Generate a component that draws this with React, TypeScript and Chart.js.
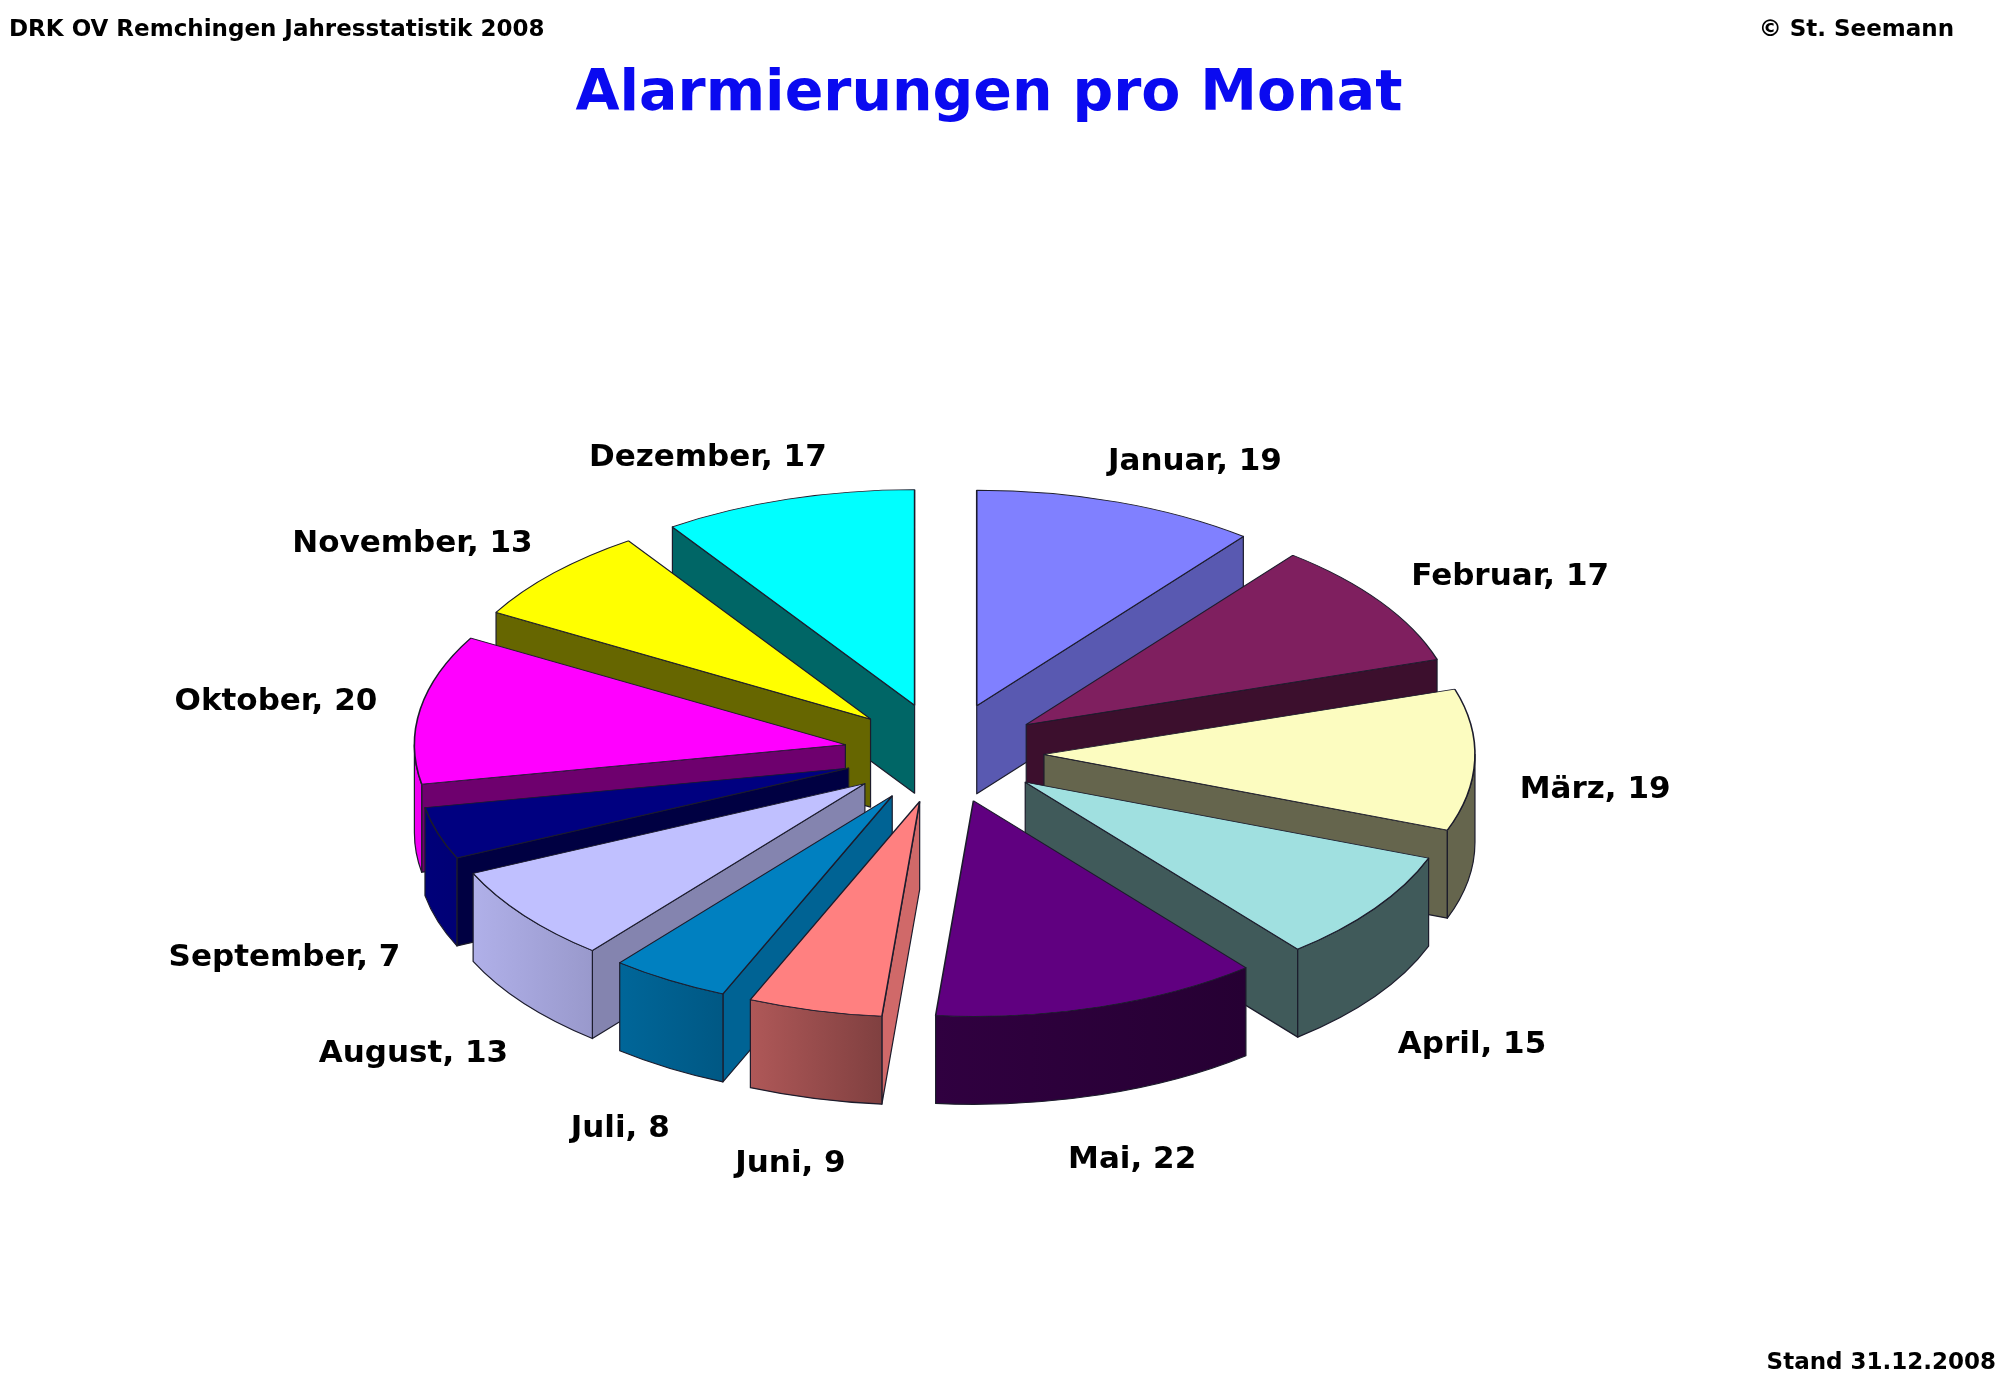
import { useEffect, useRef } from "react"
import { Chart, registerables } from "chart.js"
import type { Plugin } from "chart.js"

Chart.register(...registerables)

// Alarmierungen pro Monat 2008
const months = ["Januar", "Februar", "März", "April", "Mai", "Juni", "Juli", "August", "September", "Oktober", "November", "Dezember"]
const counts = [19, 17, 19, 15, 22, 9, 8, 13, 7, 20, 13, 17]
const sliceColors = ["#8080FF", "#7F1F5F", "#FCFCC0", "#A0E0E0", "#600080", "#FF8080", "#0080C0", "#C0C0FF", "#000080", "#FF00FF", "#FFFF00", "#00FFFF"]

const FONT = '"DejaVu Sans", "Liberation Sans", sans-serif'
const EDGE = "#1c1c2c"
const TILT = 0.5 // vertical squash of the pie
const DEPTH = 88 // height of the slice walls
const EXPLODE = 100 // how far each slice is pulled out

function shade(hex: string, f: number) {
  const n = parseInt(hex.slice(1), 16)
  const r = Math.min(255, Math.round(((n >> 16) & 255) * f))
  const g = Math.min(255, Math.round(((n >> 8) & 255) * f))
  const b = Math.min(255, Math.round((n & 255) * f))
  return `rgb(${r},${g},${b})`
}

const clamp = (v: number, lo: number, hi: number) => Math.max(lo, Math.min(hi, v))

// light on the cut faces and on the outer rim
const faceLight = (normal: number) => 0.4 + 0.42 * Math.pow(Math.max(0, Math.cos(normal)), 1.5)
const rimLight = (a: number) => 0.4 + 0.55 * Math.pow(Math.max(0, -Math.cos(a)), 0.7)

const pie3d: Plugin<"pie"> = {
  id: "pie3d",
  beforeDatasetsDraw(chart) {
    const ctx = chart.ctx
    const meta = chart.getDatasetMeta(0)
    const midOf = (el: any) => (el.startAngle + el.endAngle) / 2
    // back slices first
    const order = meta.data.map((_, i) => i).sort((a, b) => Math.sin(midOf(meta.data[a])) - Math.sin(midOf(meta.data[b])))

    for (const i of order) {
      const arc = meta.data[i] as any
      const { x, y, startAngle: a0, endAngle: a1, outerRadius: r } = arc
      const mid = (a0 + a1) / 2
      const ox = Math.cos(mid) * EXPLODE
      const oy = Math.sin(mid) * EXPLODE
      const cx = x + ox
      const cy = y + oy * TILT
      const base = sliceColors[i]

      ctx.save()
      ctx.lineWidth = 1.2
      ctx.strokeStyle = EDGE
      ctx.lineJoin = "round"

      const face = (a: number, normal: number) => {
        const px = cx + Math.cos(a) * r
        const py = cy + Math.sin(a) * r * TILT
        ctx.beginPath()
        ctx.moveTo(cx, cy)
        ctx.lineTo(px, py)
        ctx.lineTo(px, py + DEPTH)
        ctx.lineTo(cx, cy + DEPTH)
        ctx.closePath()
        ctx.fillStyle = shade(base, faceLight(normal))
        ctx.fill()
        ctx.stroke()
      }
      if (Math.cos(a0) < 0) face(a0, a0 - Math.PI / 2)
      if (Math.cos(a1) > 0) face(a1, a1 + Math.PI / 2)

      // front part of the outer wall
      const r0 = Math.max(a0, 0)
      const r1 = Math.min(a1, Math.PI)
      if (r1 > r0) {
        ctx.beginPath()
        ctx.ellipse(cx, cy, r, r * TILT, 0, r0, r1)
        ctx.ellipse(cx, cy + DEPTH, r, r * TILT, 0, r1, r0, true)
        ctx.closePath()
        const xa = cx + Math.cos(r0) * r
        const xb = cx + Math.cos(r1) * r
        const grad = ctx.createLinearGradient(xa, 0, xb === xa ? xa + 1 : xb, 0)
        grad.addColorStop(0, shade(base, rimLight(r0)))
        grad.addColorStop(1, shade(base, rimLight(r1)))
        ctx.fillStyle = grad
        ctx.fill()
        ctx.stroke()
      }
      ctx.restore()

      // top face, drawn by the arc element itself
      ctx.save()
      ctx.translate(0, y * (1 - TILT))
      ctx.scale(1, TILT)
      ctx.translate(ox, oy)
      arc.draw(ctx)
      ctx.restore()
    }
    return false
  },
  afterDraw(chart) {
    const ctx = chart.ctx
    const meta = chart.getDatasetMeta(0)
    ctx.save()
    ctx.fillStyle = "#000"
    ctx.font = `bold 31px ${FONT}`
    ctx.textAlign = "center"
    ctx.textBaseline = "middle"
    meta.data.forEach((el: any, i) => {
      const text = `${months[i]}, ${counts[i]}`
      const w = ctx.measureText(text).width
      const h = 36
      const mid = (el.startAngle + el.endAngle) / 2
      const up = Math.max(0, -Math.sin(mid))
      const A = el.outerRadius + EXPLODE + 45 + 130 * Math.pow(up, 4)
      const B = (el.outerRadius + EXPLODE) * TILT + 25
      const extra = (DEPTH + 24) * clamp(0.15 + 4 * Math.sin(mid), 0, 1)
      ctx.fillText(text, el.x + (A + w / 2) * Math.cos(mid), el.y + (B + h / 2) * Math.sin(mid) + extra)
    })

    ctx.textBaseline = "alphabetic"
    ctx.font = `bold 23px ${FONT}`
    ctx.textAlign = "left"
    ctx.fillText("DRK OV Remchingen Jahresstatistik 2008", 9, 36)
    ctx.textAlign = "right"
    ctx.fillText("© St. Seemann", 1954, 36)
    ctx.fillText("Stand 31.12.2008", 1996, 1369)

    ctx.fillStyle = "#0A0AF0"
    ctx.font = `bold 57px ${FONT}`
    ctx.textAlign = "center"
    ctx.fillText("Alarmierungen pro Monat", 989, 110)
    ctx.restore()
  },
}

export default function App() {
  const chartRef = useRef<HTMLCanvasElement>(null)
  const chartInstance = useRef<Chart | null>(null)

  useEffect(() => {
    if (!chartRef.current) return
    if (chartInstance.current) chartInstance.current.destroy()

    chartInstance.current = new Chart(chartRef.current, {
      type: "pie",
      data: {
        labels: months,
        datasets: [
          {
            data: counts,
            backgroundColor: sliceColors,
            borderColor: EDGE,
            borderWidth: 1.6,
            offset: 0,
          },
        ],
      },
      options: {
        animation: false,
        responsive: true,
        maintainAspectRatio: false,
        events: [],
        radius: 431,
        layout: { padding: { left: 0, right: 112, top: 121, bottom: 0 } },
        plugins: {
          legend: { display: false },
          title: { display: false },
          tooltip: { enabled: false },
        },
      },
      plugins: [pie3d],
    })

    return () => {
      chartInstance.current?.destroy()
      chartInstance.current = null
    }
  }, [])

  return (
    <div style={{ position: "fixed", left: 0, top: 0, width: 2000, height: 1385, background: "#fff" }}>
      <canvas ref={chartRef} />
    </div>
  )
}
